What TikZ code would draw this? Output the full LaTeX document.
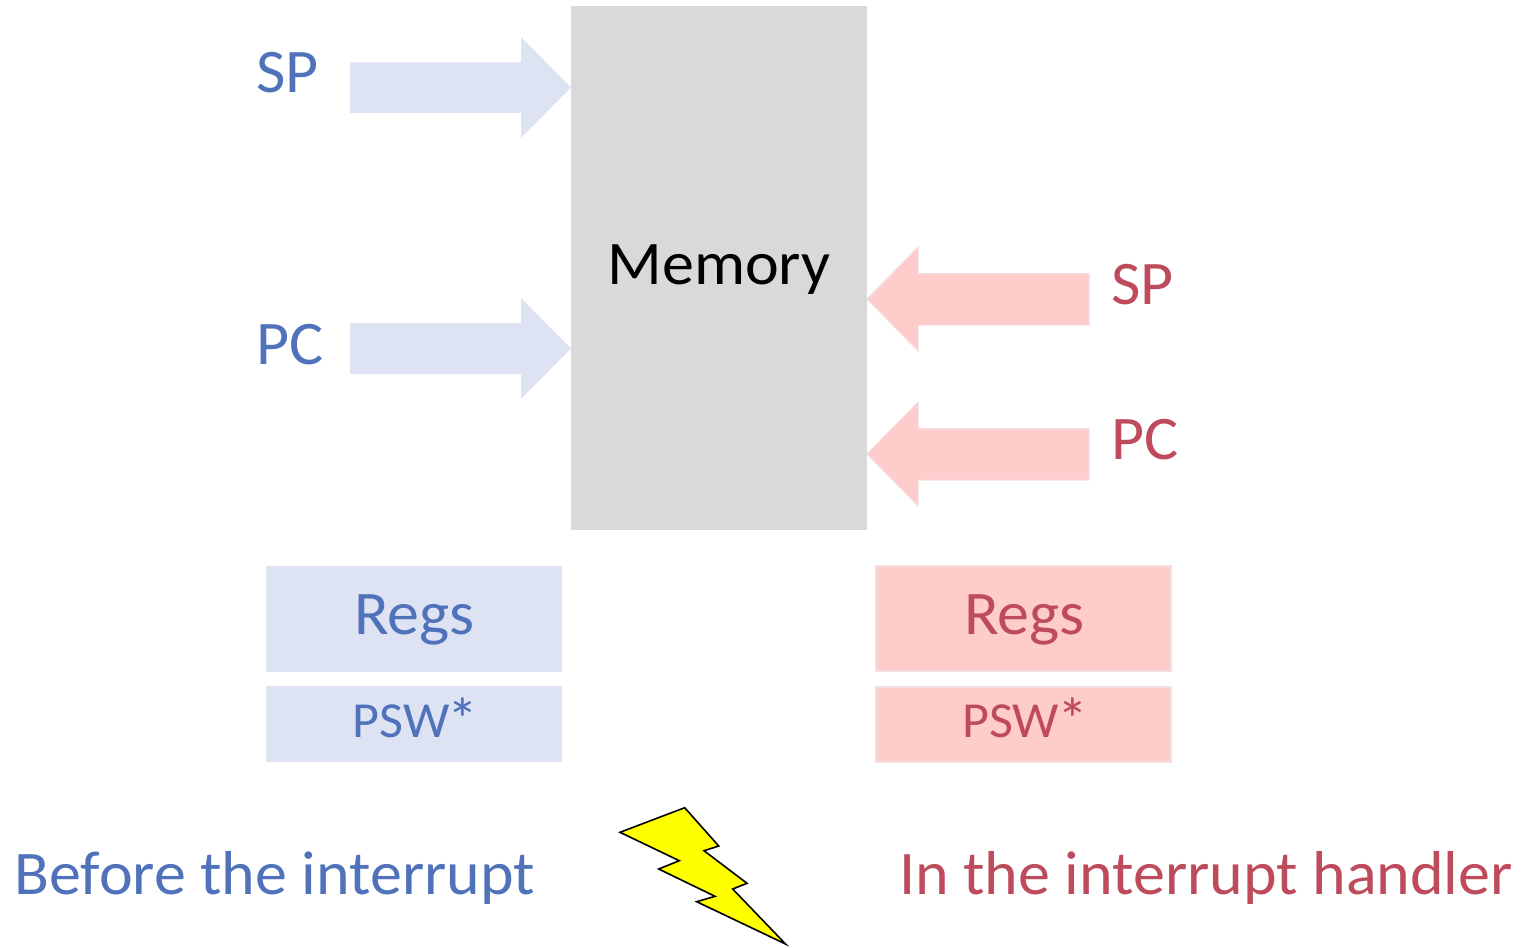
\documentclass[tikz,border=0pt]{standalone}
\usepackage{fontspec}
\setmainfont[FakeStretch=1.032]{Carlito}
\definecolor{bluetxt}{HTML}{4F72BA}
\definecolor{redtxt}{HTML}{BE4B5C}
\definecolor{bluefill}{HTML}{DDE3F2}
\definecolor{redfill}{HTML}{FFCCCC}
\definecolor{redline}{HTML}{F3DFE2}
\definecolor{memfill}{HTML}{D9D9D9}
\definecolor{boltfill}{HTML}{FFFF00}
\newcommand{\bigast}{\kern-2pt\raisebox{-3pt}{\fontsize{60}{60}\selectfont *}}
\tikzset{
  x=1pt,y=-1pt,
  lbl/.style={anchor=base west,inner sep=0pt,font=\fontsize{62}{62}\selectfont},
  ctr/.style={anchor=base,inner sep=0pt},
  big/.style={font=\fontsize{62}{62}\selectfont},
  small/.style={font=\fontsize{50.5}{50.5}\selectfont},
  bluetext/.style={text=bluetxt},
  redtext/.style={text=redtxt},
  bluearrow/.style={fill=bluefill,draw=none},
  redarrow/.style={fill=redfill,draw=redline,line width=1pt},
  bluebox/.style={fill=bluefill,draw=none},
  redbox/.style={fill=redfill,draw=redline,line width=1.5pt},
  bolt/.style={fill=boltfill,draw=black,line width=1.6pt,line join=miter},
}
\begin{document}
\begin{tikzpicture}
\useasboundingbox (0,0) rectangle (1522,947);
\fill[memfill] (571,6) rectangle (867,530);
\node[ctr,big] (mem) at (719,284) {Memory};
% blue arrows
\fill[bluearrow] (350,62.5) -- (521,62.5) -- (521,37) -- (571,87.5) -- (521,138) -- (521,113) -- (350,113) -- cycle;
\fill[bluearrow] (350,323) -- (521,323) -- (521,298) -- (571,348.5) -- (521,399) -- (521,374) -- (350,374) -- cycle;
% red arrows
\filldraw[redarrow] (1089,273.5) -- (918,273.5) -- (918,247) -- (867,299) -- (918,351) -- (918,325) -- (1089,325) -- cycle;
\filldraw[redarrow] (1089,428.5) -- (918,428.5) -- (918,402) -- (867,454) -- (918,506) -- (918,480) -- (1089,480) -- cycle;
\node[lbl,bluetext] (sp1) at (256,93) {SP};
\node[lbl,bluetext] (pc1) at (256,364) {PC};
\node[lbl,redtext] (sp2) at (1111,304.5) {SP};
\node[lbl,redtext] (pc2) at (1111,459) {PC};
% boxes
\fill[bluebox] (266,566) rectangle (562,672);
\fill[bluebox] (266,686) rectangle (562,762);
\filldraw[redbox] (876,566) rectangle (1171,671);
\filldraw[redbox] (876,687) rectangle (1171,762);
\node[ctr,big,bluetext] (regs1) at (414.5,634) {Regs};
\node[ctr,small,bluetext] (psw1) at (415.5,737) {PSW\bigast};
\node[ctr,big,redtext] (regs2) at (1024.5,634) {Regs};
\node[ctr,small,redtext] (psw2) at (1025,737) {PSW\bigast};
\node[lbl,bluetext] (before) at (14.5,894) {Before the interrupt};
\node[lbl,redtext] (inh) at (899,894) {In the interrupt handler};
\filldraw[bolt] (684.7,807.7) -- (718.7,846) -- (704,850.7) -- (747,883.3) -- (732.7,889) -- (785.5,944) -- (696.7,901.7) -- (715,896.3) -- (658.7,869) -- (679.3,860.7) -- (620,832.3) -- cycle;
\end{tikzpicture}
\end{document}
